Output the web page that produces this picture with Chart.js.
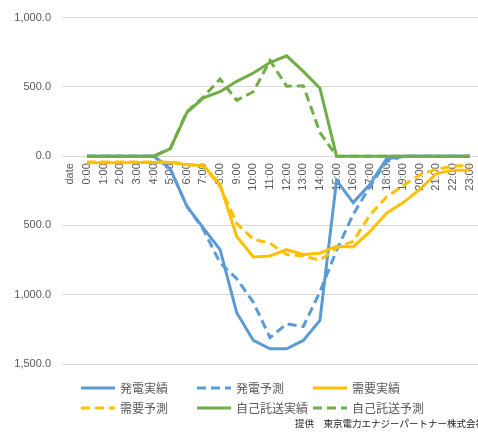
<!DOCTYPE html>
<html>
<head>
<meta charset="utf-8">
<script src="https://cdn.jsdelivr.net/npm/chart.js@4/dist/chart.umd.min.js"></script>
<style>
  html, body { margin: 0; padding: 0; background: #ffffff; }
  #wrap { position: relative; width: 478px; height: 433px; }
</style>
</head>
<body>
<div id="wrap"><canvas id="chart"></canvas></div>
<script>
// Hourly categories (first slot is the header column "date")
const categories = ['date', '0:00', '1:00', '2:00', '3:00', '4:00', '5:00', '6:00', '7:00', '8:00',
  '9:00', '10:00', '11:00', '12:00', '13:00', '14:00', '15:00', '16:00', '17:00', '18:00',
  '19:00', '20:00', '21:00', '22:00', '23:00'];

// Series values per hour 0:00 - 23:00 (generation/demand plotted below zero)
const genActual = [0, 0, 0, 0, 0, -90, -360, -520, -675, -1130, -1330, -1390, -1390, -1330, -1185, -175, -335, -205, -20, 0, 0, 0, 0, 0];
const genForecast = [0, 0, 0, 0, 0, -90, -360, -530, -770, -885, -1055, -1310, -1210, -1230, -980, -680, -420, -220, -40, 0, 0, 0, 0, 0];
const demandActual = [-48, -48, -47, -46, -45, -45, -62, -68, -205, -580, -727, -720, -675, -710, -700, -650, -655, -545, -412, -335, -240, -126, -102, -102];
const demandForecast = [-42, -42, -42, -43, -43, -43, -58, -70, -220, -485, -600, -628, -710, -720, -752, -662, -615, -425, -295, -212, -135, -95, -71, -67];
const selfActual = [0, 0, 0, 0, 0, 52, 314, 421, 465, 540, 600, 676, 724, 612, 490, 0, 0, 0, 0, 0, 0, 0, 0, 0];
const selfForecast = [0, 0, 0, 0, 0, 52, 320, 428, 557, 403, 465, 690, 505, 508, 171, 0, 0, 0, 0, 0, 0, 0, 0, 0];

// Y axis tick settings
const yMin = -1500;
const yMax = 1000;
const yStep = 500;

const seriesNames = ['発電実績', '発電予測', '需要実績', '需要予測', '自己託送実績', '自己託送予測'];
const sourceNote = '提供　東京電力エナジーパートナー株式会社';

const BLUE = '#5B9BD5';
const GOLD = '#FFC000';
const GREEN = '#70AD47';
const DASH = [9, 5];

// The "date" slot has no value
const withHeader = arr => [null].concat(arr);

function makeSet(i, values, color, dashed) {
  return {
    label: seriesNames[i],
    data: withHeader(values),
    borderColor: color,
    backgroundColor: color,
    borderWidth: 3,
    borderDash: dashed ? DASH : [],
    pointRadius: 0,
    pointHoverRadius: 0,
    tension: 0,
    fill: false,
    spanGaps: false,
    order: 5 - i
  };
}

// Legend in a fixed 3-column grid plus the source note underneath
const gridLegend = {
  id: 'gridLegend',
  afterDraw(chart) {
    const ctx = chart.ctx;
    const colX = [81, 197, 313];
    const rowY = [388, 408];
    ctx.save();
    chart.data.datasets.forEach((ds, i) => {
      const x = colX[i % 3];
      const y = rowY[Math.floor(i / 3)];
      ctx.beginPath();
      ctx.strokeStyle = ds.borderColor;
      ctx.lineWidth = ds.borderWidth;
      ctx.lineCap = 'butt';
      ctx.setLineDash(ds.borderDash);
      ctx.moveTo(x, y);
      ctx.lineTo(x + 34, y);
      ctx.stroke();
      ctx.setLineDash([]);
      ctx.fillStyle = '#595959';
      ctx.font = "12px 'Noto Sans CJK JP', sans-serif";
      ctx.textBaseline = 'middle';
      ctx.textAlign = 'left';
      ctx.fillText(ds.label, x + 39, y + 0.5);
    });
    ctx.fillStyle = '#1a1a1a';
    ctx.font = "9.5px 'Noto Sans CJK JP', sans-serif";
    ctx.textBaseline = 'middle';
    ctx.textAlign = 'left';
    ctx.fillText(sourceNote, 295, 423);
    ctx.restore();
  }
};

const fmt = v => Math.abs(v).toLocaleString('en-US', { minimumFractionDigits: 1, maximumFractionDigits: 1 });

new Chart(document.getElementById('chart'), {
  type: 'line',
  data: {
    labels: categories,
    datasets: [
      makeSet(0, genActual, BLUE, false),
      makeSet(1, genForecast, BLUE, true),
      makeSet(2, demandActual, GOLD, false),
      makeSet(3, demandForecast, GOLD, true),
      makeSet(4, selfActual, GREEN, false),
      makeSet(5, selfForecast, GREEN, true)
    ]
  },
  options: {
    responsive: true,
    maintainAspectRatio: false,
    animation: false,
    devicePixelRatio: 1,
    layout: { padding: { left: 0, right: -2, top: 14, bottom: 69 } },
    plugins: {
      legend: { display: false },
      tooltip: { enabled: false }
    },
    scales: {
      x: {
        type: 'category',
        offset: true,
        position: { y: 0 },
        grid: { display: false, drawTicks: false },
        border: { display: false },
        ticks: {
          autoSkip: false,
          minRotation: 90,
          maxRotation: 90,
          padding: 7,
          color: '#595959',
          font: { family: "'Liberation Sans', sans-serif", size: 11 }
        },
        // rotated labels fit inside the category slots, no side margin needed
        afterFit(scale) { scale.paddingLeft = 0; scale.paddingRight = 0; }
      },
      y: {
        min: yMin,
        max: yMax,
        grid: { color: '#D9D9D9', lineWidth: 1, drawTicks: false },
        border: { display: false },
        ticks: {
          stepSize: yStep,
          padding: 11,
          color: '#595959',
          font: { family: "'Liberation Sans', sans-serif", size: 11 },
          callback: v => fmt(v)
        },
        afterFit(scale) { scale.width = 62; }
      }
    }
  },
  plugins: [gridLegend]
});
</script>
</body>
</html>
